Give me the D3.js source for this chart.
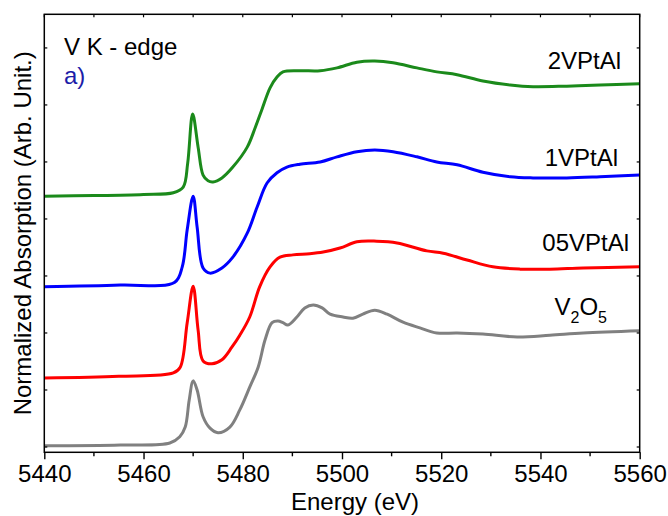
<!DOCTYPE html>
<html>
<head>
<meta charset="utf-8">
<script src="https://cdn.jsdelivr.net/npm/d3@7"></script>
<style>
  body { margin: 0; background: #fff; }
  svg { display: block; font-family: "Liberation Sans", Arial, sans-serif; }
</style>
</head>
<body>
<svg id="chart"></svg>
<script>
// XANES V K-edge, four stacked spectra (offset in y)

const width = 668;
const height = 516;
const margin = { top: 14.3, right: 28.3, bottom: 63.7, left: 44.3 };

// energies (eV) and absorption (arb. units, already offset)
const e2V = [5440, 5450, 5460, 5466, 5468, 5468.9, 5469.9, 5471, 5472, 5473, 5474, 5475.8, 5478, 5480.9, 5482.5, 5483.9, 5485.5, 5486.9, 5488.1, 5491.5, 5495.6, 5499, 5503, 5506.6, 5510.3, 5515.1, 5519.1, 5523.2, 5528.4, 5533.9, 5538.5, 5545.3, 5552, 5560];
const y2V = [4.40, 4.41, 4.43, 4.46, 4.56, 4.98, 5.84, 5.26, 4.77, 4.67, 4.65, 4.72, 4.91, 5.26, 5.60, 5.93, 6.30, 6.49, 6.58, 6.60, 6.60, 6.65, 6.75, 6.77, 6.74, 6.65, 6.58, 6.53, 6.42, 6.35, 6.32, 6.33, 6.35, 6.37];

const e1V = [5440, 5455.3, 5466.3, 5467.8, 5468.8, 5470, 5470.8, 5472, 5473.4, 5475.8, 5478, 5480.9, 5482.9, 5484.9, 5486.9, 5488.9, 5491.5, 5495.6, 5499, 5503, 5506.6, 5510.3, 5515.1, 5519.1, 5523.2, 5528.4, 5533.9, 5538.5, 5545.3, 5552, 5560];
const y1V = [2.81, 2.84, 2.89, 3.16, 3.81, 4.40, 3.86, 3.14, 3.05, 3.14, 3.33, 3.75, 4.21, 4.63, 4.81, 4.91, 4.96, 5.00, 5.09, 5.18, 5.21, 5.18, 5.09, 5.00, 4.95, 4.82, 4.74, 4.72, 4.72, 4.74, 4.77];

const e05V = [5440, 5455, 5466, 5467.4, 5468.8, 5470, 5471, 5472, 5473.8, 5475.8, 5477.8, 5479.4, 5481.4, 5483.4, 5485.5, 5487.5, 5490.1, 5493.5, 5496.2, 5499.6, 5503, 5507, 5511.1, 5517.1, 5520.4, 5525.2, 5530.4, 5535.9, 5541.9, 5548.6, 5560];
const y05V = [1.21, 1.24, 1.30, 1.40, 2.18, 2.82, 2.05, 1.51, 1.46, 1.53, 1.75, 1.96, 2.28, 2.81, 3.16, 3.33, 3.37, 3.39, 3.42, 3.49, 3.60, 3.61, 3.58, 3.44, 3.40, 3.28, 3.16, 3.12, 3.12, 3.14, 3.16];

const eV2O5 = [5440, 5455.3, 5465.3, 5467.3, 5468.4, 5469.2, 5470, 5470.8, 5472, 5473.4, 5475, 5477.4, 5479.4, 5481.4, 5483.1, 5484.5, 5485.9, 5487.1, 5488.1, 5489.1, 5490.9, 5492.5, 5494.2, 5496, 5497.6, 5500.2, 5502.2, 5504.2, 5506.6, 5509.1, 5512.3, 5515.7, 5519.1, 5523.2, 5528.4, 5535.3, 5541.9, 5548.6, 5560];
const yV2O5 = [0.02, 0.035, 0.07, 0.18, 0.35, 0.82, 1.16, 1.00, 0.53, 0.33, 0.25, 0.35, 0.65, 1.05, 1.40, 1.88, 2.18, 2.21, 2.18, 2.14, 2.28, 2.44, 2.49, 2.44, 2.33, 2.28, 2.26, 2.33, 2.40, 2.33, 2.19, 2.09, 2.00, 2.00, 1.98, 1.93, 1.96, 2.00, 2.04];

const seriesNames = ["2VPtAl", "1VPtAl", "05VPtAl", "V2O5"];
const seriesColors = ["#1b8a1b", "#0000ff", "#ff0000", "#808080"];
const seriesE = [e2V, e1V, e05V, eV2O5];
const seriesY = [y2V, y1V, y05V, yV2O5];

const xTicks = [5440, 5460, 5480, 5500, 5520, 5540, 5560];
const xMinor = [5450, 5470, 5490, 5510, 5530, 5550];
const yTicks = [0, 1, 2, 3, 4, 5, 6, 7];

const svg = d3.select("#chart")
  .attr("width", width)
  .attr("height", height);

const x = d3.scaleLinear()
  .domain([5440, 5560])
  .range([margin.left, width - margin.right]);

const y = d3.scaleLinear()
  .domain([-0.093, 7.59])
  .range([height - margin.bottom, margin.top]);

const x0 = x.range()[0], x1 = x.range()[1];
const yb = y.range()[0], yt = y.range()[1];

// spectra
const line = d3.line()
  .x(function (d) { return x(d[0]); })
  .y(function (d) { return y(d[1]); })
  .curve(d3.curveCatmullRom.alpha(0.5));

seriesNames.forEach(function (name, i) {
  const pts = seriesE[i].map(function (e, j) { return [e, seriesY[i][j]]; });
  svg.append("path")
    .datum(pts)
    .attr("fill", "none")
    .attr("stroke", seriesColors[i])
    .attr("stroke-width", 3)
    .attr("stroke-linejoin", "round")
    .attr("d", line);
});

// bottom axis (major, with labels)
const gx = svg.append("g")
  .attr("transform", "translate(0," + yb + ")")
  .call(d3.axisBottom(x).tickValues(xTicks).tickSize(7).tickPadding(6).tickFormat(d3.format("d")));
gx.select(".domain").remove();
gx.selectAll("line").attr("stroke", "#000").attr("stroke-width", 1.4);
gx.selectAll("text")
  .attr("font-size", 24)
  .attr("fill", "#000")
  .attr("font-family", "Liberation Sans, Arial, sans-serif");

// bottom minor ticks
svg.append("g").selectAll("line")
  .data(xMinor)
  .enter().append("line")
  .attr("x1", function (d) { return x(d); })
  .attr("x2", function (d) { return x(d); })
  .attr("y1", yb)
  .attr("y2", yb + 4)
  .attr("stroke", "#000")
  .attr("stroke-width", 1.4);

// top ticks (small, inward)
svg.append("g").selectAll("line")
  .data(xTicks.concat(xMinor))
  .enter().append("line")
  .attr("x1", function (d) { return x(d); })
  .attr("x2", function (d) { return x(d); })
  .attr("y1", yt)
  .attr("y2", yt + 3)
  .attr("stroke", "#000")
  .attr("stroke-width", 1.2);

// left / right ticks (small, inward)
svg.append("g").selectAll("line")
  .data(yTicks)
  .enter().append("line")
  .attr("x1", x0)
  .attr("x2", x0 + 3)
  .attr("y1", function (d) { return y(d); })
  .attr("y2", function (d) { return y(d); })
  .attr("stroke", "#000")
  .attr("stroke-width", 1.2);

svg.append("g").selectAll("line")
  .data(yTicks)
  .enter().append("line")
  .attr("x1", x1 - 3)
  .attr("x2", x1)
  .attr("y1", function (d) { return y(d); })
  .attr("y2", function (d) { return y(d); })
  .attr("stroke", "#000")
  .attr("stroke-width", 1.2);

// frame
svg.append("rect")
  .attr("x", x0)
  .attr("y", yt)
  .attr("width", x1 - x0)
  .attr("height", yb - yt)
  .attr("fill", "none")
  .attr("stroke", "#000")
  .attr("stroke-width", 1.5);

// axis titles
svg.append("text")
  .attr("x", 355)
  .attr("y", 510)
  .attr("text-anchor", "middle")
  .attr("font-size", 24)
  .text("Energy (eV)");

svg.append("text")
  .attr("transform", "translate(31," + ((yb + yt) / 2) + ") rotate(-90)")
  .attr("text-anchor", "middle")
  .attr("font-size", 24)
  .text("Normalized Absorption (Arb. Unit.)");

// annotations
svg.append("text")
  .attr("x", 64)
  .attr("y", 55)
  .attr("font-size", 24)
  .text("V K - edge");

svg.append("text")
  .attr("x", 64)
  .attr("y", 84)
  .attr("font-size", 24)
  .attr("fill", "#1c1ca8")
  .text("a)");

// series labels
const labelX = [621, 618, 629];
const labelY = [69, 166, 251];
seriesNames.slice(0, 3).forEach(function (name, i) {
  svg.append("text")
    .attr("x", labelX[i])
    .attr("y", labelY[i])
    .attr("text-anchor", "end")
    .attr("font-size", 24)
    .text(name);
});

const v2o5 = svg.append("text")
  .attr("x", 607)
  .attr("y", 315)
  .attr("text-anchor", "end")
  .attr("font-size", 24);
v2o5.append("tspan").text("V");
v2o5.append("tspan").attr("font-size", 16).attr("dy", 8).text("2");
v2o5.append("tspan").attr("dy", -8).text("O");
v2o5.append("tspan").attr("font-size", 16).attr("dy", 8).text("5");
</script>
</body>
</html>
